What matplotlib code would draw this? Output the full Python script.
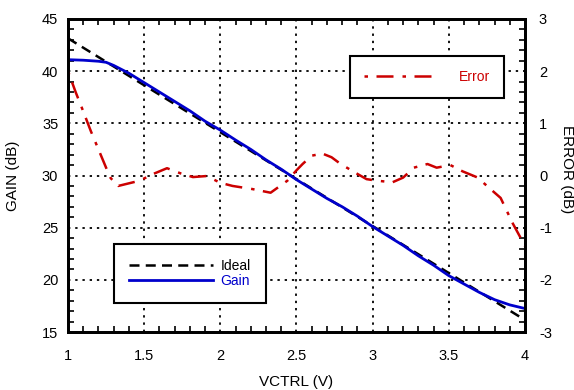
import numpy as np
import matplotlib
matplotlib.use("Agg")
import matplotlib.pyplot as plt
from matplotlib.ticker import MultipleLocator

plt.rcParams['font.family'] = ['Liberation Sans', 'DejaVu Sans']
plt.rcParams['axes.unicode_minus'] = False

# control voltage (V)
vctrl = [1.0, 1.1, 1.2, 1.25, 1.3, 1.4, 1.5, 1.6, 1.7, 1.8, 1.9, 2.0, 2.1, 2.2, 2.3, 2.4,
         2.5, 2.6, 2.7, 2.8, 2.9, 3.0, 3.1, 3.2, 3.3, 3.4, 3.5, 3.6, 3.7, 3.8, 3.9, 4.0]
# measured gain (dB)
gain = [41.1, 41.05, 40.95, 40.85, 40.55, 39.8, 38.9, 38.0, 37.1, 36.2, 35.2, 34.35, 33.4,
        32.5, 31.5, 30.6, 29.6, 28.7, 27.8, 27.0, 26.1, 25.1, 24.2, 23.3, 22.3, 21.4, 20.4,
        19.6, 18.8, 18.1, 17.6, 17.25]
# ideal linear-in-dB response
ideal_v = [1.0, 4.0]
ideal = [43.15, 16.15]

# error curve (dB)
err_v = [1.0, 1.05, 1.1, 1.15, 1.2, 1.25, 1.28, 1.33, 1.4, 1.47, 1.56, 1.65, 1.74, 1.82,
         1.91, 2.0, 2.08, 2.21, 2.33, 2.44, 2.5, 2.54, 2.6, 2.67, 2.73, 2.79, 2.9, 2.96,
         3.03, 3.13, 3.2, 3.27, 3.36, 3.42, 3.51, 3.59, 3.69, 3.75, 3.84, 3.92, 4.0]
err = [2.0, 1.6, 1.23, 0.85, 0.5, 0.15, -0.05, -0.2, -0.15, -0.1, 0.03, 0.14, 0.04, -0.03,
       -0.01, -0.14, -0.2, -0.26, -0.33, -0.1, 0.1, 0.22, 0.38, 0.42, 0.35, 0.22, 0.03, -0.07,
       -0.1, -0.13, -0.04, 0.15, 0.22, 0.15, 0.2, 0.08, -0.04, -0.2, -0.43, -0.92, -1.35]

blue = '#0000cc'
red = '#cc0000'

fig = plt.figure(figsize=(5.74, 3.90), dpi=100)
ax = fig.add_axes([68 / 574, 1 - 332 / 390, 457 / 574, 313 / 390])
ax2 = ax.twinx()

ax.plot(ideal_v, ideal, color='black', lw=1.8, dashes=(4, 2.5), label='Ideal')
ax.plot(vctrl, gain, color=blue, lw=2.0, label='Gain')
ax2.plot(err_v, err, color=red, lw=1.8, dashes=(1.4, 3.4, 6.8, 3.6), label='Error')

ax.set_xlim(1, 4)
ax.set_ylim(15, 45)
ax2.set_ylim(-3, 3)

ax.xaxis.set_major_locator(MultipleLocator(0.5))
ax.xaxis.set_minor_locator(MultipleLocator(0.1))
ax.yaxis.set_major_locator(MultipleLocator(5))
ax.yaxis.set_minor_locator(MultipleLocator(1))
ax2.yaxis.set_major_locator(MultipleLocator(1))
ax2.yaxis.set_minor_locator(MultipleLocator(0.2))
ax.set_xticks([1, 1.5, 2, 2.5, 3, 3.5, 4])
ax.set_xticklabels(['1', '1.5', '2', '2.5', '3', '3.5', '4'])

ax.grid(True, which='major', color='black', lw=1.3, linestyle=(0, (1.3, 2.7)))

ax.tick_params(axis='x', which='both', direction='in', top=True, labelsize=10.5, pad=12)
ax.tick_params(axis='x', which='major', length=0)
ax.tick_params(axis='x', which='minor', length=4, width=1.2)
ax.tick_params(axis='y', which='major', direction='in', length=0, labelsize=10.5, pad=7)
ax.tick_params(axis='y', which='minor', direction='in', length=4, width=1.2)
ax2.tick_params(axis='y', which='major', direction='in', length=0, labelsize=10.5, pad=10)
ax2.tick_params(axis='y', which='minor', direction='in', length=4, width=1.2)

for a in (ax, ax2):
    for s in a.spines.values():
        s.set_linewidth(2.0)

ax.set_xlabel('VCTRL (V)', fontsize=11)
ax.xaxis.set_label_coords(0.5, -0.137)
ax.set_ylabel('GAIN (dB)', fontsize=11)
ax.yaxis.set_label_coords(-0.105, 0.5)
ax2.set_ylabel('ERROR (dB)', fontsize=11, rotation=270, va='center')
ax2.yaxis.set_label_coords(1.092, 0.52)

h1, l1 = ax.get_legend_handles_labels()
h2, l2 = ax2.get_legend_handles_labels()
leg1 = ax2.legend(h1, l1, loc='upper left', bbox_to_anchor=(114 / 574, 1 - 244 / 390),
                  bbox_transform=fig.transFigure, fontsize=10, frameon=True, fancybox=False,
                  edgecolor='black', framealpha=1, handlelength=6.0, handletextpad=0.55,
                  borderpad=1.1, labelspacing=0.05, borderaxespad=0, labelcolor='linecolor')
leg1.get_frame().set_linewidth(1.5)
ax2.add_artist(leg1)
leg2 = ax2.legend(h2, l2, loc='upper left', bbox_to_anchor=(350 / 574, 1 - 56 / 390),
                  bbox_transform=fig.transFigure, fontsize=10, frameon=True, fancybox=False,
                  edgecolor='black', framealpha=1, handlelength=5.2, handletextpad=1.65,
                  borderpad=1.0, borderaxespad=0, labelcolor='linecolor')
leg2.get_frame().set_linewidth(1.5)

fig.savefig('out.png', dpi=100)
